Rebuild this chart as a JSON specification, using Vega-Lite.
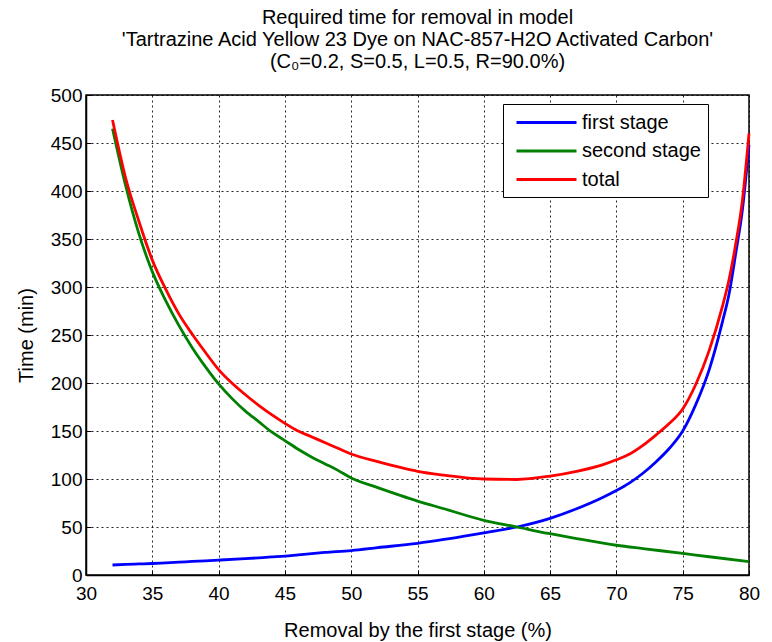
{
  "$schema": "https://vega.github.io/schema/vega-lite/v6.json",
  "autosize": "none",
  "width": 663,
  "height": 480,
  "padding": {"left": 86, "top": 95, "right": 23, "bottom": 67},
  "background": "white",
  "config": {
    "font": "Liberation Sans",
    "view": {"stroke": "black", "strokeWidth": 1.5},
    "axis": {
      "labelFont": "Liberation Sans", "titleFont": "Liberation Sans",
      "labelFontSize": 19, "titleFontSize": 20, "titleFontWeight": "normal",
      "labelColor": "black", "titleColor": "black",
      "labelFlush": false,
      "domainColor": "black", "domainWidth": 1.5,
      "tickColor": "black", "tickSize": -5, "tickWidth": 1,
      "grid": true, "gridColor": "black", "gridDash": [2, 3], "gridOpacity": 0.85, "gridWidth": 1
    }
  },
  "title": {
    "text": ["Required time for removal in model", "'Tartrazine Acid Yellow 23 Dye on NAC-857-H2O Activated Carbon'", "(C₀=0.2, S=0.5, L=0.5, R=90.0%)"],
    "font": "Liberation Sans",
    "fontSize": 20,
    "fontWeight": "normal",
    "color": "black",
    "lineHeight": 22,
    "anchor": "middle",
    "offset": 14
  },
  "data": {
    "values": [
      {"x": 32, "t": 10.4, "s": "first stage"},
      {"x": 33, "t": 11, "s": "first stage"},
      {"x": 34, "t": 11.5, "s": "first stage"},
      {"x": 35, "t": 12, "s": "first stage"},
      {"x": 36, "t": 12.7, "s": "first stage"},
      {"x": 37, "t": 13.4, "s": "first stage"},
      {"x": 38, "t": 14.1, "s": "first stage"},
      {"x": 39, "t": 14.8, "s": "first stage"},
      {"x": 40, "t": 15.5, "s": "first stage"},
      {"x": 42, "t": 17, "s": "first stage"},
      {"x": 44, "t": 18.8, "s": "first stage"},
      {"x": 45, "t": 19.7, "s": "first stage"},
      {"x": 46, "t": 21, "s": "first stage"},
      {"x": 48, "t": 23.5, "s": "first stage"},
      {"x": 50, "t": 25.5, "s": "first stage"},
      {"x": 52, "t": 28.5, "s": "first stage"},
      {"x": 55, "t": 33, "s": "first stage"},
      {"x": 57, "t": 37, "s": "first stage"},
      {"x": 60, "t": 44, "s": "first stage"},
      {"x": 62.5, "t": 50, "s": "first stage"},
      {"x": 65, "t": 59, "s": "first stage"},
      {"x": 67, "t": 69, "s": "first stage"},
      {"x": 69, "t": 81, "s": "first stage"},
      {"x": 70, "t": 88, "s": "first stage"},
      {"x": 71, "t": 96, "s": "first stage"},
      {"x": 72, "t": 106, "s": "first stage"},
      {"x": 73, "t": 118, "s": "first stage"},
      {"x": 74, "t": 132, "s": "first stage"},
      {"x": 75, "t": 150, "s": "first stage"},
      {"x": 76, "t": 178, "s": "first stage"},
      {"x": 77, "t": 214, "s": "first stage"},
      {"x": 78, "t": 264, "s": "first stage"},
      {"x": 78.5, "t": 293, "s": "first stage"},
      {"x": 79, "t": 335, "s": "first stage"},
      {"x": 79.5, "t": 380, "s": "first stage"},
      {"x": 80, "t": 448, "s": "first stage"},

      {"x": 32, "t": 465, "s": "second stage"},
      {"x": 33, "t": 405, "s": "second stage"},
      {"x": 34, "t": 355, "s": "second stage"},
      {"x": 35, "t": 316, "s": "second stage"},
      {"x": 36, "t": 286, "s": "second stage"},
      {"x": 37, "t": 260, "s": "second stage"},
      {"x": 38, "t": 237, "s": "second stage"},
      {"x": 39, "t": 217, "s": "second stage"},
      {"x": 40, "t": 199, "s": "second stage"},
      {"x": 41, "t": 184, "s": "second stage"},
      {"x": 42, "t": 171, "s": "second stage"},
      {"x": 43, "t": 160, "s": "second stage"},
      {"x": 44, "t": 149, "s": "second stage"},
      {"x": 45, "t": 140, "s": "second stage"},
      {"x": 46, "t": 131, "s": "second stage"},
      {"x": 47, "t": 123, "s": "second stage"},
      {"x": 48, "t": 116, "s": "second stage"},
      {"x": 49, "t": 109, "s": "second stage"},
      {"x": 50, "t": 101, "s": "second stage"},
      {"x": 52, "t": 91, "s": "second stage"},
      {"x": 55, "t": 77, "s": "second stage"},
      {"x": 57, "t": 69, "s": "second stage"},
      {"x": 60, "t": 57, "s": "second stage"},
      {"x": 62.5, "t": 50, "s": "second stage"},
      {"x": 65, "t": 43, "s": "second stage"},
      {"x": 67, "t": 38, "s": "second stage"},
      {"x": 70, "t": 31, "s": "second stage"},
      {"x": 72, "t": 27.5, "s": "second stage"},
      {"x": 75, "t": 22.5, "s": "second stage"},
      {"x": 77, "t": 19, "s": "second stage"},
      {"x": 80, "t": 14, "s": "second stage"},

      {"x": 32, "t": 474, "s": "total"},
      {"x": 33, "t": 413, "s": "total"},
      {"x": 34, "t": 368, "s": "total"},
      {"x": 35, "t": 328, "s": "total"},
      {"x": 36, "t": 298, "s": "total"},
      {"x": 37, "t": 272, "s": "total"},
      {"x": 38, "t": 251, "s": "total"},
      {"x": 39, "t": 232, "s": "total"},
      {"x": 40, "t": 214, "s": "total"},
      {"x": 41, "t": 200, "s": "total"},
      {"x": 42, "t": 188, "s": "total"},
      {"x": 43, "t": 177, "s": "total"},
      {"x": 44, "t": 167, "s": "total"},
      {"x": 45, "t": 158, "s": "total"},
      {"x": 46, "t": 150, "s": "total"},
      {"x": 47, "t": 144, "s": "total"},
      {"x": 48, "t": 138, "s": "total"},
      {"x": 49, "t": 132, "s": "total"},
      {"x": 50, "t": 126, "s": "total"},
      {"x": 52, "t": 118, "s": "total"},
      {"x": 54, "t": 111, "s": "total"},
      {"x": 55, "t": 108, "s": "total"},
      {"x": 57, "t": 104, "s": "total"},
      {"x": 60, "t": 100, "s": "total"},
      {"x": 62.5, "t": 99.5, "s": "total"},
      {"x": 65, "t": 103, "s": "total"},
      {"x": 67, "t": 108, "s": "total"},
      {"x": 69, "t": 115, "s": "total"},
      {"x": 70, "t": 120, "s": "total"},
      {"x": 71, "t": 126, "s": "total"},
      {"x": 72, "t": 135, "s": "total"},
      {"x": 73, "t": 146, "s": "total"},
      {"x": 74, "t": 158, "s": "total"},
      {"x": 75, "t": 173, "s": "total"},
      {"x": 76, "t": 199, "s": "total"},
      {"x": 77, "t": 234, "s": "total"},
      {"x": 78, "t": 280, "s": "total"},
      {"x": 78.5, "t": 308, "s": "total"},
      {"x": 79, "t": 345, "s": "total"},
      {"x": 79.5, "t": 390, "s": "total"},
      {"x": 80, "t": 460, "s": "total"}
    ]
  },
  "mark": {"type": "line", "strokeWidth": 2.8, "interpolate": "monotone"},
  "encoding": {
    "x": {
      "field": "x", "type": "quantitative",
      "scale": {"domain": [30, 80], "nice": false, "zero": false},
      "axis": {"values": [30, 35, 40, 45, 50, 55, 60, 65, 70, 75, 80], "title": "Removal by the first stage (%)", "labelPadding": 14, "titlePadding": 17}
    },
    "y": {
      "field": "t", "type": "quantitative",
      "scale": {"domain": [0, 500], "nice": false},
      "axis": {"values": [0, 50, 100, 150, 200, 250, 300, 350, 400, 450, 500], "title": "Time (min)", "labelPadding": 9, "titlePadding": 14}
    },
    "color": {
      "field": "s", "type": "nominal",
      "scale": {"domain": ["first stage", "second stage", "total"], "range": ["#0000ff", "#008000", "#ff0000"]},
      "legend": {
        "title": null,
        "orient": "none",
        "legendX": 417,
        "legendY": 9,
        "direction": "vertical",
        "symbolType": "M-3,0L3,0",
        "symbolSize": 400,
        "symbolStrokeWidth": 3,
        "symbolOffset": 25,
        "labelFont": "Liberation Sans",
        "labelFontSize": 20,
        "labelColor": "black",
        "rowPadding": 6.5,
        "labelOffset": 24,
        "padding": 7,
        "strokeColor": "black",
        "fillColor": "white"
      }
    }
  }
}
